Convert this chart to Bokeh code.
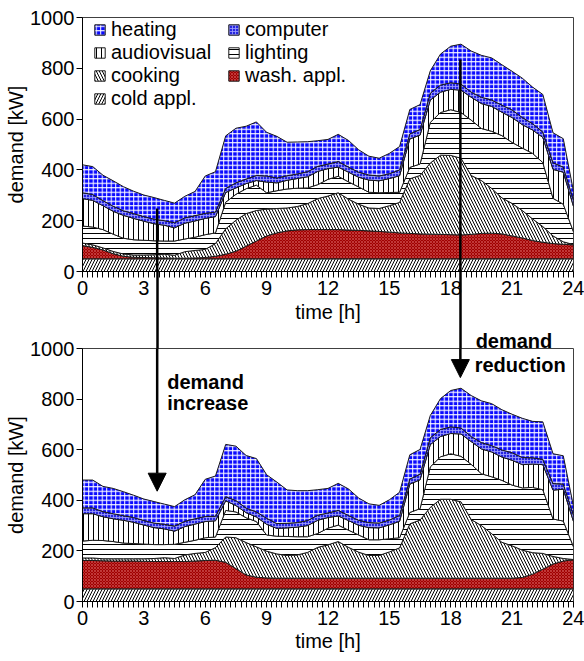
import numpy as np
from bokeh.plotting import figure
from bokeh.models import (Range1d, FixedTicker, Legend, LegendItem, Arrow, NormalHead, Label,
                          LinearAxis, CustomJSTickFormatter)
from bokeh.layouts import column
from bokeh.embed import file_html
from bokeh.resources import INLINE

# ---------------- data (kW, half-hour resolution) ----------------
hours = [0.0, 0.5, 1.0, 1.5, 2.0, 2.5, 3.0, 3.5, 4.0, 4.5, 5.0, 5.5, 6.0, 6.5, 7.0, 7.5,
         8.0, 8.5, 9.0, 9.5, 10.0, 10.5, 11.0, 11.5, 12.0, 12.5, 13.0, 13.5, 14.0, 14.5,
         15.0, 15.5, 16.0, 16.5, 17.0, 17.5, 18.0, 18.5, 19.0, 19.5, 20.0, 20.5, 21.0,
         21.5, 22.0, 22.5, 23.0, 23.5, 24.0]

cold = [50, 50, 50, 50, 50, 50, 50, 50, 50, 50, 50, 50, 50, 50, 50, 50, 50, 50, 50, 50,
        50, 50, 50, 50, 50, 50, 50, 50, 50, 50, 50, 50, 50, 50, 50, 50, 50, 50, 50, 50,
        50, 50, 50, 50, 50, 50, 50, 50, 50]

wash_before = [52, 45, 35, 20, 10, 6, 5, 4, 3, 2, 2, 3, 5, 10, 18, 30, 50, 70, 90, 102,
               110, 114, 115, 115, 115, 115, 113, 112, 110, 108, 105, 102, 100, 98, 97, 96,
               95, 94, 96, 100, 101, 98, 90, 82, 72, 65, 60, 57, 55]

wash_after = [112, 112, 111, 110, 110, 110, 109, 108, 108, 108, 108, 110, 112, 113, 105, 80,
              55, 46, 43, 42, 42, 42, 42, 42, 42, 42, 42, 42, 42, 42, 42, 42, 42, 42, 42, 42,
              42, 42, 42, 42, 42, 42, 42, 45, 58, 78, 98, 110, 115]

cooking = [10, 10, 8, 9, 9, 9, 10, 12, 15, 12, 26, 30, 32, 50, 100, 122, 128, 120, 106, 96,
           90, 92, 102, 122, 132, 145, 122, 103, 90, 90, 104, 120, 215, 230, 280, 312, 312,
           302, 232, 208, 176, 142, 128, 108, 85, 62, 30, 10, 1]

lighting = [67, 70, 72, 68, 62, 60, 58, 55, 52, 56, 50, 52, 58, 42, 105, 102, 98, 100, 64, 70,
            75, 72, 62, 55, 66, 65, 68, 68, 62, 62, 52, 40, 45, 45, 160, 168, 180, 180, 218,
            205, 225, 245, 240, 246, 258, 252, 148, 148, 50]

audiovisual = [108, 105, 94, 90, 90, 84, 75, 67, 62, 52, 62, 64, 64, 64, 38, 25, 20, 18, 42,
               31, 34, 38, 44, 52, 42, 36, 38, 38, 48, 47, 55, 65, 112, 114, 88, 80, 80, 88,
               90, 98, 98, 92, 98, 92, 92, 99, 114, 126, 100]

computer = [23, 23, 20, 20, 18, 19, 18, 18, 18, 20, 21, 21, 20, 18, 16, 20, 18, 20, 24, 19,
            18, 18, 20, 20, 18, 22, 20, 20, 20, 19, 19, 23, 20, 22, 27, 28, 26, 24, 20, 25,
            25, 28, 30, 28, 25, 21, 26, 20, 25]

heating = [110, 110, 100, 100, 95, 88, 85, 85, 80, 77, 85, 95, 147, 159, 207, 215, 208, 211,
           172, 164, 132, 126, 118, 101, 97, 107, 105, 88, 74, 70, 80, 92, 96, 98, 88, 122,
           144, 157, 162, 165, 166, 159, 152, 155, 144, 148, 118, 112, 35]

layer_names = ["cold appl.", "wash. appl.", "cooking", "lighting", "audiovisual", "computer", "heating"]
# legend fills column by column (4 rows)
legend_order = ["heating", "audiovisual", "cooking", "cold appl.", "computer", "lighting", "wash. appl."]
x_small_ticks = [i * 0.25 for i in range(97)]
y_ticks = [0, 200, 400, 600, 800, 1000]

# annotation anchors (h, kW start in upper chart, kW tip in lower chart)
arrow_inc = (3.65, 248, 436)
arrow_red = (18.47, 835, 885)
text_inc = (4.14, 867, 783)      # "demand" / "increase" baselines (lower chart)
text_red = (19.17, 21.09, 933)   # x left, x centre of "demand", baseline of "reduction"

FONT = "Liberation Sans"

STYLE = {
    "cold appl.": dict(fill_color="white", hatch_pattern="/", hatch_color="black", hatch_scale=6, hatch_weight=1),
    "wash. appl.": dict(fill_color="#a00000", hatch_pattern="x", hatch_color="#e07070", hatch_scale=3, hatch_weight=0.5),
    "cooking": dict(fill_color="white", hatch_pattern="\\", hatch_color="black", hatch_scale=6, hatch_weight=1),
    "lighting": dict(fill_color="white", hatch_pattern="-", hatch_color="black", hatch_scale=5, hatch_weight=1),
    "audiovisual": dict(fill_color="white", hatch_pattern="|", hatch_color="black", hatch_scale=5, hatch_weight=1),
    "computer": dict(fill_color="#2525e0", hatch_pattern="+", hatch_color="#a0a0ff", hatch_scale=3, hatch_weight=0.8),
    "heating": dict(fill_color="#0a0aff", hatch_pattern="+", hatch_color="white", hatch_scale=4.5, hatch_weight=1),
}

label_fmt = CustomJSTickFormatter(code="return (Math.abs(tick % 3) < 1e-6) ? tick.toFixed(0) : '';")

TICK = 6
SHAFT = 62   # length of the long ticks that continue the arrows below the upper chart


def make_chart(wash, frame_h, b_top, b_bottom, xlab_standoff, arrow_ticks):
    p = figure(frame_width=491, frame_height=frame_h, x_range=Range1d(0, 24), y_range=Range1d(0, 1000),
               output_backend="svg", toolbar_location=None,
               min_border_left=82, min_border_right=11, min_border_top=b_top, min_border_bottom=b_bottom)
    p.grid.visible = False
    p.outline_line_color = "#404040"
    p.outline_line_width = 1
    x = np.array(hours, dtype=float)
    base = np.zeros_like(x)
    rs = {}
    series = [cold, wash, cooking, lighting, audiovisual, computer, heating]
    for name, vals in zip(layer_names, series):
        top = base + np.array(vals, dtype=float)
        rs[name] = p.patch(np.concatenate([x, x[::-1]]), np.concatenate([top, base[::-1]]),
                           line_color="#1a1a1a", line_width=1, line_join="round", **STYLE[name])
        base = top

    xa = p.xaxis[0]
    ya = p.yaxis[0]
    xa.ticker = FixedTicker(ticks=x_small_ticks, minor_ticks=arrow_ticks)
    xa.formatter = label_fmt
    ya.ticker = FixedTicker(ticks=y_ticks)
    xa.axis_label = "time [h]"
    ya.axis_label = "demand [kW]"
    for ax in (xa, ya):
        ax.axis_label_text_font = FONT
        ax.axis_label_text_font_size = "20px"
        ax.axis_label_text_font_style = "normal"
        ax.axis_label_text_color = "black"
        ax.major_label_text_font = FONT
        ax.major_label_text_font_size = "20px"
        ax.major_label_text_color = "black"
        ax.axis_line_color = "black"
        ax.major_tick_line_color = "black"
        ax.major_tick_out = TICK
        ax.major_tick_in = 0
    ya.minor_tick_line_color = None
    ya.major_label_standoff = 2
    ya.axis_label_standoff = 0
    xa.axis_label_standoff = xlab_standoff
    if arrow_ticks:
        # long "minor" ticks continue the arrow shafts through the gap between charts
        xa.minor_tick_line_color = "black"
        xa.minor_tick_line_width = 2.5
        xa.minor_tick_out = SHAFT
        xa.minor_tick_in = 0
        xa.major_label_standoff = 3 - (SHAFT - TICK)
    else:
        xa.minor_tick_line_color = None
        xa.major_label_standoff = 3
    return p, rs


p_top, rs_top = make_chart(wash_before, 254, 17, 55, 3, [arrow_inc[0], arrow_red[0]])
p_bot, rs_bot = make_chart(wash_after, 253, 19, 57, 2, [])

legend = Legend(items=[LegendItem(label=n, renderers=[rs_top[n]]) for n in legend_order],
                ncols=2, location=(11, 161), padding=0, margin=0, spacing=0,
                glyph_width=13, glyph_height=13, label_standoff=5, label_width=116,
                label_text_font=FONT, label_text_font_size="20px", label_text_color="black",
                border_line_alpha=0, background_fill_alpha=0)
p_top.add_layout(legend)

# arrows: shaft in the upper chart, head in the lower chart
for (hx, y0, y1) in (arrow_inc, arrow_red):
    p_top.add_layout(Arrow(end=None, x_start=hx, y_start=y0, x_end=hx, y_end=-900,
                           line_width=2.5, line_color="black"))
    p_bot.add_layout(Arrow(end=NormalHead(size=18, fill_color="black", line_color="black"),
                           x_start=hx, y_start=2200, x_end=hx, y_end=y1,
                           line_width=2.5, line_color="black"))

# upper border of the lower chart: shaft pieces + the word "demand" above the frame
UP = 30
top_axis = LinearAxis(ticker=FixedTicker(ticks=[text_red[1]], minor_ticks=[arrow_inc[0], arrow_red[0]]),
                      formatter=CustomJSTickFormatter(code="return 'demand';"),
                      axis_line_color=None, major_tick_out=0, major_tick_in=0,
                      minor_tick_out=UP, minor_tick_in=0, minor_tick_line_width=2.5,
                      minor_tick_line_color="black", major_label_standoff=-UP - 3,
                      major_label_text_font=FONT, major_label_text_font_size="20px",
                      major_label_text_font_style="bold", major_label_text_color="black")
p_bot.add_layout(top_axis, "above")

for (tx, ty, txt) in ((text_inc[0], text_inc[1], "demand"), (text_inc[0], text_inc[2], "increase"),
                      (text_red[0], text_red[2], "reduction")):
    p_bot.add_layout(Label(x=tx, y=ty, text=txt, text_font=FONT, text_font_size="20px",
                           text_font_style="bold", text_color="black", text_baseline="alphabetic"))

layout = column(p_top, p_bot, spacing=0)
open("out.html", "w").write(file_html(layout, INLINE))
